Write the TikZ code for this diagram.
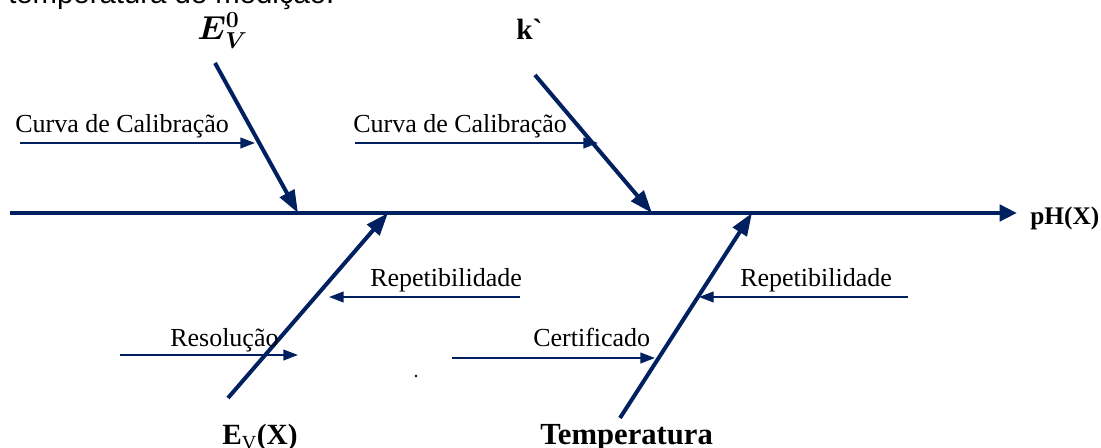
\documentclass[tikz,border=0pt]{standalone}
\usepackage{bm}
\usepackage{fontspec}
\setmainfont{Liberation Serif}
\newfontfamily\rawserif[Ligatures=TeXOff]{Liberation Serif}
\newfontfamily\arialfont{Liberation Sans}
\usetikzlibrary{arrows.meta}
\definecolor{navy}{RGB}{0,32,96}
\begin{document}
\begin{tikzpicture}[x=0.75pt,y=-0.75pt,
  spine/.style={draw=navy,line width=3.7pt,-{Triangle[length=13pt,width=12pt]}},
  bone/.style={draw=navy,line width=3pt,-{Triangle[length=17pt,width=12pt]}},
  cause/.style={draw=navy,line width=1.5pt,-{Triangle[length=11pt,width=8pt]}},
  lbl/.style={anchor=base west,inner sep=0pt,font=\fontsize{19.5pt}{22pt}\selectfont},
  head/.style={anchor=base west,inner sep=0pt,font=\fontsize{22pt}{26pt}\selectfont\bfseries}]
\useasboundingbox (0,0) rectangle (1101,448);
% clipped caption line at top
\node[anchor=base west,inner sep=0pt,font=\arialfont\fontsize{22pt}{26pt}\selectfont] (cap) at (8,4) {temperatura de medição.};
% spine
\coordinate (s0) at (10,213);
\coordinate (s1) at (1017,213);
\draw[spine] (s0) -- (s1);
\node[head,font=\fontsize{19pt}{22pt}\selectfont\bfseries] (ph) at (1030,225) {pH(X)};
% bones
\coordinate (b1s) at (215,63);  \coordinate (b1e) at (298,213);
\coordinate (b2s) at (535,75);  \coordinate (b2e) at (652,213);
\coordinate (b3s) at (228,398); \coordinate (b3e) at (388,213);
\coordinate (b4s) at (620,418); \coordinate (b4e) at (752,213);
\draw[bone] (b1s) -- (b1e);
\draw[bone] (b2s) -- (b2e);
\draw[bone] (b3s) -- (b3e);
\draw[bone] (b4s) -- (b4e);
% bone labels
\node[anchor=base west,inner sep=0pt,font=\fontsize{23pt}{26pt}\selectfont] (ev0) at (197,40) {$\bm{E}^{\bm{0}}_{\kern1pt\bm{V}}$};
\node[head] (k) at (516,40) {k{\rawserif\bfseries `}};
\node[head] (ev) at (222,445) {E\textsubscript{\mdseries\fontsize{15pt}{18pt}\selectfont V}(X)};
\node[head,font=\fontsize{23pt}{27pt}\selectfont\bfseries] (temp) at (540,445) {Temperatura};
% causes
\coordinate (c1s) at (20,143);  \coordinate (c1e) at (255,143);
\coordinate (c2s) at (355,143); \coordinate (c2e) at (598,143);
\coordinate (c3s) at (520,297); \coordinate (c3e) at (329,297);
\coordinate (c4s) at (120,355); \coordinate (c4e) at (298,355);
\coordinate (c5s) at (452,358); \coordinate (c5e) at (655,358);
\coordinate (c6s) at (908,297); \coordinate (c6e) at (699,297);
\draw[cause] (c1s) -- (c1e);
\draw[cause] (c2s) -- (c2e);
\draw[cause] (c3s) -- (c3e);
\draw[cause] (c4s) -- (c4e);
\draw[cause] (c5s) -- (c5e);
\draw[cause] (c6s) -- (c6e);
\node[lbl] (t1) at (15,133) {Curva de Calibração};
\node[lbl] (t2) at (353,133) {Curva de Calibração};
\node[lbl] (t3) at (370,287) {Repetibilidade};
\node[lbl] (t4) at (170,347) {Resolução};
\node[lbl] (t5) at (533,347) {Certificado};
\node[lbl] (t6) at (740,287) {Repetibilidade};
\node[circle,fill=black,inner sep=0pt,minimum size=2.2pt] (dot) at (416,376) {};
\end{tikzpicture}
\end{document}
